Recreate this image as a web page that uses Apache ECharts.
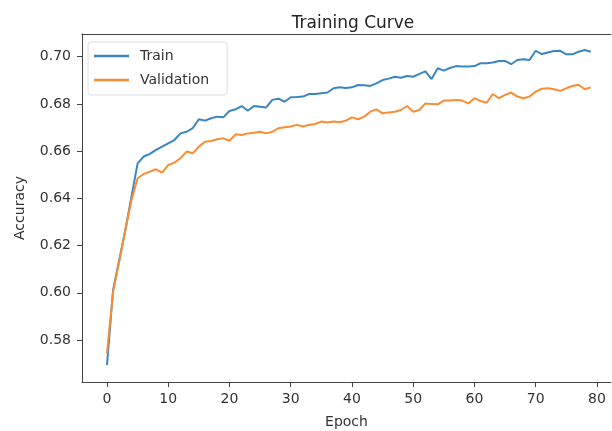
<!DOCTYPE html>
<html>
<head>
<meta charset="utf-8">
<script src="https://cdn.jsdelivr.net/npm/echarts@6/dist/echarts.min.js"></script>
<style>html,body{margin:0;padding:0;background:#fff}#c{width:612px;height:431px}</style>
</head>
<body>
<div id="c"></div>
<script>
const epochs = Array.from({length: 80}, (_, i) => i);
const train = [0.5694,0.6012,0.6139,0.6266,0.6407,0.6548,0.6577,0.6588,0.6605,0.6619,
0.6633,0.6647,0.6675,0.6682,0.6697,0.6735,0.6729,0.6739,0.6746,0.6743,
0.6770,0.6777,0.6791,0.6771,0.6791,0.6788,0.6785,0.6817,0.6822,0.6809,
0.6828,0.6829,0.6831,0.6842,0.6842,0.6845,0.6848,0.6866,0.6870,0.6867,
0.6870,0.6880,0.6879,0.6876,0.6887,0.6901,0.6907,0.6915,0.6911,0.6918,
0.6915,0.6927,0.6938,0.6905,0.6951,0.6941,0.6952,0.6960,0.6958,0.6958,
0.6960,0.6972,0.6972,0.6975,0.6982,0.6982,0.6968,0.6986,0.6989,0.6986,
0.7025,0.7011,0.7018,0.7024,0.7025,0.7010,0.7010,0.7021,0.7028,0.7021];
const validation = [0.5744,0.6005,0.6132,0.6266,0.6393,0.6485,0.6503,0.6513,0.6523,0.6509,
0.6541,0.6551,0.6570,0.6598,0.6591,0.6619,0.6640,0.6643,0.6650,0.6654,
0.6644,0.6671,0.6668,0.6675,0.6678,0.6682,0.6675,0.6682,0.6697,0.6701,
0.6704,0.6711,0.6704,0.6711,0.6715,0.6725,0.6721,0.6725,0.6722,0.6729,
0.6743,0.6735,0.6746,0.6767,0.6777,0.6760,0.6764,0.6767,0.6774,0.6791,
0.6767,0.6774,0.6802,0.6800,0.6798,0.6814,0.6814,0.6817,0.6814,0.6802,
0.6824,0.6812,0.6805,0.6842,0.6824,0.6838,0.6848,0.6831,0.6824,0.6831,
0.6852,0.6864,0.6866,0.6862,0.6855,0.6866,0.6876,0.6881,0.6862,0.6870];
const xTicks = [0,10,20,30,40,50,60,70,80];
const yTicks = [0.58,0.60,0.62,0.64,0.66,0.68,0.70];

const FONT = 'DejaVu Sans';
const TXT = '#333';
const AX = '#444';
const chart = echarts.init(document.getElementById('c'), null, {renderer: 'canvas'});
chart.setOption({
  animation: false,
  backgroundColor: '#fff',
  title: {
    text: 'Training Curve', left: 348, top: 10, textAlign: 'center',
    textStyle: {fontFamily: FONT, fontSize: 17, fontWeight: 'normal', color: '#222'}
  },
  legend: {
    orient: 'vertical', left: 88, top: 42,
    data: ['Train', 'Validation'],
    icon: 'rect', itemWidth: 35, itemHeight: 2.5, itemGap: 10,
    padding: [7, 18, 8, 6],
    backgroundColor: 'rgba(255,255,255,0.8)', borderColor: '#ddd', borderWidth: 1, borderRadius: 3,
    textStyle: {fontFamily: FONT, fontSize: 14, color: TXT, padding: [0, 0, 0, 6]}
  },
  grid: {left: 82, top: 34, right: 1, bottom: 49, show: false, outerBoundsMode: 'none', containLabel: false},
  xAxis: [{
    type: 'value', min: -4.08, max: 82.3,
    name: 'Epoch', nameLocation: 'middle', nameGap: 33,
    nameTextStyle: {fontFamily: FONT, fontSize: 14, color: TXT},
    axisLine: {show: true, onZero: false, lineStyle: {color: AX}},
    axisTick: {show: true, length: 5, customValues: xTicks, lineStyle: {color: AX}},
    axisLabel: {customValues: xTicks, margin: 10, fontFamily: FONT, fontSize: 14, color: TXT},
    splitLine: {show: false}
  }, {
    type: 'value', position: 'top', min: -4.08, max: 82.3,
    axisLine: {show: true, onZero: false, lineStyle: {color: AX}},
    axisTick: {show: false}, axisLabel: {show: false}, splitLine: {show: false}
  }],
  yAxis: {
    type: 'value', min: 0.5622, max: 0.7096,
    name: 'Accuracy', nameLocation: 'middle', nameGap: 55,
    nameTextStyle: {fontFamily: FONT, fontSize: 14, color: TXT},
    axisLine: {show: true, onZero: false, lineStyle: {color: AX}},
    axisTick: {show: true, length: 5, customValues: yTicks, lineStyle: {color: AX}},
    axisLabel: {customValues: yTicks, margin: 11, fontFamily: FONT, fontSize: 14, color: TXT,
      formatter: v => v.toFixed(2)},
    splitLine: {show: false}
  },
  series: [
    {name: 'Train', type: 'line', xAxisIndex: 0, data: epochs.map((e, i) => [e, train[i]]),
     symbol: 'none', lineStyle: {width: 2, color: '#3a86bf'}, itemStyle: {color: '#3a86bf'}},
    {name: 'Validation', type: 'line', xAxisIndex: 0, data: epochs.map((e, i) => [e, validation[i]]),
     symbol: 'none', lineStyle: {width: 2, color: '#f98d35'}, itemStyle: {color: '#f98d35'}}
  ]
});
</script>
</body>
</html>
